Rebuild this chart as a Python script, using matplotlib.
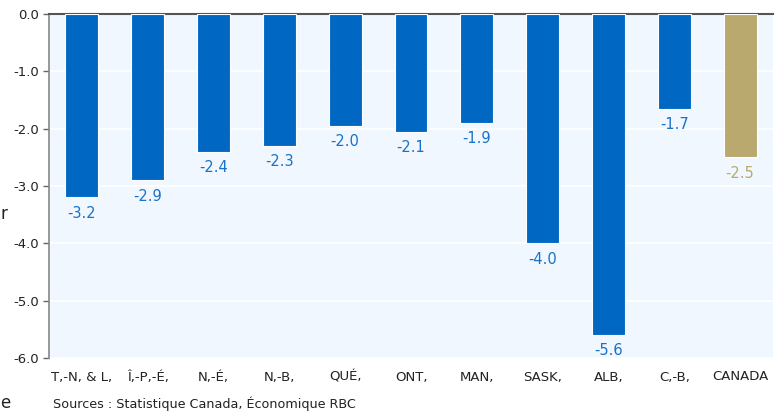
import matplotlib
matplotlib.use("Agg")
import matplotlib.pyplot as plt

categories = ["T,-N, & L,", "Î,-P,-É,", "N,-É,", "N,-B,", "QUÉ,", "ONT,", "MAN,",
              "SASK,", "ALB,", "C,-B,", "CANADA"]
values = [-3.2, -2.9, -2.4, -2.3, -1.95, -2.05, -1.9, -4.0, -5.6, -1.65, -2.5]
labels = ["-3.2", "-2.9", "-2.4", "-2.3", "-2.0", "-2.1", "-1.9", "-4.0", "-5.6", "-1.7", "-2.5"]
yticks = [0.0, -1.0, -2.0, -3.0, -4.0, -5.0, -6.0]
source = "Sources : Statistique Canada, Économique RBC"

blue = "#0068c3"
tan = "#b9a96f"
colors = [blue] * 10 + [tan]
label_colors = ["#1a72c8"] * 10 + ["#b9a96f"]

plt.rcParams['font.family'] = ['DejaVu Sans']
fig = plt.figure(figsize=(7.78, 4.12), dpi=100)
ax = fig.add_axes([49 / 778, 1 - 358 / 412, (773 - 49) / 778, (358 - 14) / 412])
ax.set_facecolor("#f0f7fe")

x = list(range(len(categories)))
ax.bar(x, values, width=0.5, color=colors, edgecolor="white", linewidth=0.8, zorder=3)
for xi, v, lab, c in zip(x, values, labels, label_colors):
    ax.annotate(lab, (xi, v), xytext=(0, -6), textcoords="offset points",
                ha="center", va="top", fontsize=10.5, color=c, zorder=4)

ax.set_xlim(-0.5, len(categories) - 0.5)
ax.set_ylim(-6.0, 0.0)
ax.set_yticks(yticks)
ax.set_yticklabels([f"{t:.1f}" for t in yticks], fontsize=9.5, color="#222222",
                   fontweight="medium")
ax.yaxis.grid(True, color="white", linewidth=1.2, zorder=1)
ax.set_axisbelow(True)
ax.set_xticks(x)
ax.set_xticklabels(categories, fontsize=9.5, color="#222222")
ax.tick_params(axis="x", length=0, pad=9)
ax.tick_params(axis="y", length=4, width=1, color="#666666", direction="out", pad=3)

for s in ["right", "bottom"]:
    ax.spines[s].set_visible(False)
ax.spines["top"].set_color("#555555")
ax.spines["top"].set_linewidth(1.5)
ax.spines["left"].set_color("#888888")
ax.spines["left"].set_linewidth(1.2)

fig.text(53 / 778, 1 - 404 / 412, source, fontsize=9.2, color="#222222", va="center", ha="left")
fig.text(0.5 / 778, 1 - 214 / 412, "r", fontsize=12, color="#222222", va="center", ha="left")
fig.text(0.5 / 778, 1 - 403 / 412, "e", fontsize=12, color="#222222", va="center", ha="left")

fig.savefig("out.png", dpi=100)
